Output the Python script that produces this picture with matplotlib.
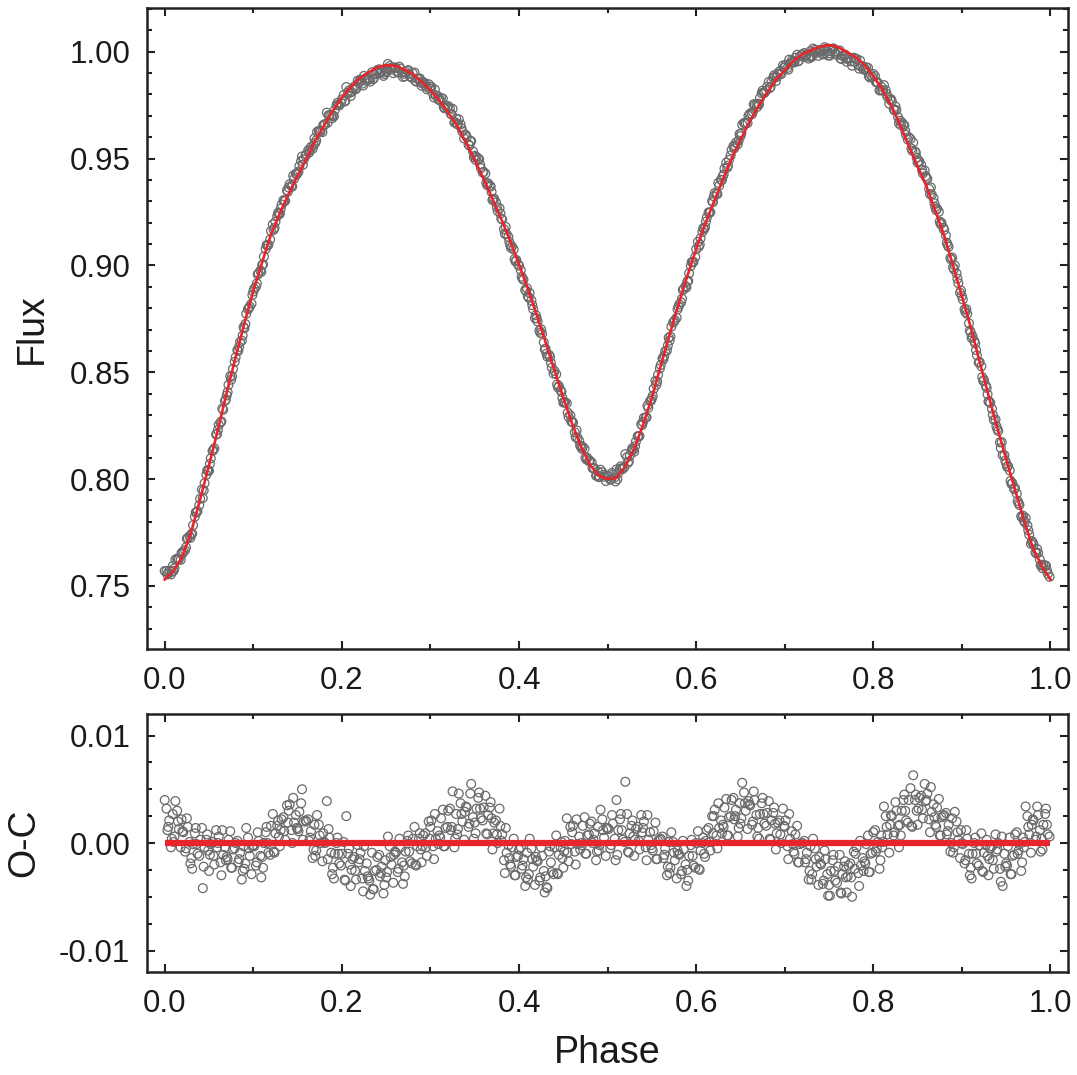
import numpy as np
import matplotlib
matplotlib.use("Agg")
import matplotlib.pyplot as plt
from matplotlib.ticker import MultipleLocator, FormatStrFormatter

# ── data ──
# fitted light curve, phase step 0.01, flux in units of 1e-4
fit_flux_e4 = [7530, 7570, 7640, 7755, 7905, 8065, 8230, 8405, 8570, 8730,
               8880, 9015, 9145, 9245, 9335, 9420, 9500, 9585, 9655, 9725,
               9787, 9833, 9876, 9903, 9927, 9937, 9935, 9918, 9895, 9859,
               9820, 9772, 9716, 9654, 9576, 9494, 9405, 9312, 9217, 9115,
               9005, 8890, 8768, 8641, 8510, 8381, 8259, 8152, 8068, 8016,
               8000, 8005, 8060, 8140, 8254, 8382, 8530, 8676, 8816, 8950,
               9076, 9192, 9298, 9400, 9500, 9587, 9669, 9743, 9808, 9869,
               9913, 9958, 9988, 10008, 10023, 10032, 10022, 9999, 9975, 9939,
               9886, 9824, 9752, 9660, 9560, 9464, 9370, 9256, 9140, 9000,
               8857, 8710, 8550, 8393, 8240, 8093, 7950, 7810, 7680, 7595,
               7530]
fit_phase_e2 = list(range(0, 101))

# observations, first batch: phase (1e-3), flux (1e-4), O-C (1e-4)
phase_a_e3 = [
    0, 3, 5, 8, 11, 14, 16, 19, 21, 23, 26, 28, 30, 32, 35, 37, 40, 43, 45, 48,
    51, 54, 56, 59, 61, 63, 66, 68, 70, 72, 75, 77, 80, 83, 85, 88, 91, 94, 96, 99,
    101, 103, 106, 108, 110, 112, 115, 117, 120, 123, 125, 128, 131, 134, 136, 139,
    141, 143, 146, 148, 150, 152, 155, 157, 160, 163, 165, 168, 171, 174, 176, 179,
    181, 183, 186, 188, 190, 192, 195, 197,
    200, 203, 205, 208, 211, 214, 216, 219, 221, 223, 226, 228, 230, 232, 235, 237,
    240, 243, 245, 248, 251, 254, 256, 259, 261, 263, 266, 268, 270, 272, 275, 277,
    280, 283, 285, 288, 291, 294, 296, 299,
    301, 303, 306, 308, 310, 312, 315, 317, 320, 323, 325, 328, 331, 334, 336, 339,
    341, 343, 346, 348, 350, 352, 355, 357, 360, 363, 365, 368, 371, 374, 376, 379,
    381, 383, 386, 388, 390, 392, 395, 397,
    400, 403, 405, 408, 411, 414, 416, 419, 421, 423, 426, 428, 430, 432, 435, 437,
    440, 443, 445, 448, 451, 454, 456, 459, 461, 463, 466, 468, 470, 472, 475, 477,
    480, 483, 485, 488, 491, 494, 496, 499,
    501, 503, 506, 508, 510, 512, 515, 517, 520, 523, 525, 528, 531, 534, 536, 539,
    541, 543, 546, 548, 550, 552, 555, 557, 560, 563, 565, 568, 571, 574, 576, 579,
    581, 583, 586, 588, 590, 592, 595, 597,
    600, 603, 605, 608, 611, 614, 616, 619, 621, 623, 626, 628, 630, 632, 635, 637,
    640, 643, 645, 648, 651, 654, 656, 659, 661, 663, 666, 668, 670, 672, 675, 677,
    680, 683, 685, 688, 691, 694, 696, 699,
    701, 703, 706, 708, 710, 712, 715, 717, 720, 723, 725, 728, 731, 734, 736, 739,
    741, 743, 746, 748, 750, 752, 755, 757, 760, 763, 765, 768, 771, 774, 776, 779,
    781, 783, 786, 788, 790, 792, 795, 797,
    800, 803, 805, 808, 811, 814, 816, 819, 821, 823, 826, 828, 830, 832, 835, 837,
    840, 843, 845, 848, 851, 854, 856, 859, 861, 863, 866, 868, 870, 872, 875, 877,
    880, 883, 885, 888, 891, 894, 896, 899,
    901, 903, 906, 908, 910, 912, 915, 917, 920, 923, 925, 928, 931, 934, 936, 939,
    941, 943, 946, 948, 950, 952, 955, 957, 960, 963, 965, 968, 971, 974, 976, 979,
    981, 983, 986, 988, 990, 992, 995, 997]

flux_a_e4 = [
    7570, 7554, 7571, 7566, 7583, 7628, 7625, 7655, 7662, 7667, 7724, 7733,
    7741, 7784, 7844, 7850, 7908, 7911, 7981, 8041, 8071, 8132, 8144, 8210,
    8254, 8265, 8324, 8366, 8392, 8441, 8465, 8515, 8570, 8600, 8641, 8672,
    8726, 8795, 8808, 8862,
    8891, 8900, 8963, 8976, 9002, 9041, 9095, 9097, 9161, 9167, 9204, 9246,
    9266, 9305, 9302, 9345, 9380, 9373, 9405, 9429, 9433, 9465, 9510, 9496,
    9520, 9528, 9554, 9562, 9585, 9630, 9627, 9657, 9662, 9715, 9702, 9702,
    9702, 9727, 9761, 9749,
    9777, 9767, 9835, 9819, 9812, 9837, 9825, 9854, 9870, 9851, 9866, 9879,
    9870, 9860, 9872, 9894, 9914, 9899, 9910, 9896, 9910, 9933, 9916, 9924,
    9924, 9903, 9921, 9903, 9897, 9905, 9914, 9885, 9899, 9864, 9874, 9875,
    9852, 9852, 9824, 9828,
    9836, 9803, 9795, 9793, 9779, 9784, 9741, 9747, 9746, 9709, 9733, 9670,
    9659, 9660, 9627, 9613, 9601, 9566, 9582, 9534, 9513, 9508, 9497, 9455,
    9438, 9386, 9384, 9369, 9311, 9295, 9255, 9243, 9215, 9170, 9147, 9133,
    9095, 9089, 9030, 9025,
    8999, 8947, 8933, 8881, 8849, 8836, 8795, 8767, 8738, 8695, 8680, 8640,
    8610, 8573, 8572, 8522, 8506, 8443, 8435, 8408, 8361, 8355, 8291, 8270,
    8264, 8219, 8194, 8179, 8152, 8151, 8100, 8100, 8086, 8052, 8051, 8018,
    8012, 8032, 8011, 8016,
    8013, 7997, 8021, 8008, 8045, 8028, 8060, 8047, 8117, 8076, 8109, 8145,
    8154, 8201, 8202, 8253, 8287, 8288, 8334, 8366, 8377, 8423, 8441, 8488,
    8534, 8560, 8598, 8625, 8667, 8733, 8744, 8795, 8818, 8827, 8890, 8903,
    8925, 8963, 9016, 9017,
    9076, 9087, 9127, 9174, 9205, 9248, 9249, 9296, 9339, 9336, 9373, 9401,
    9417, 9453, 9457, 9494, 9540, 9548, 9575, 9584, 9618, 9667, 9666, 9700,
    9711, 9708, 9753, 9754, 9757, 9783, 9818, 9807, 9836, 9830, 9859, 9890,
    9882, 9908, 9895, 9925,
    9939, 9924, 9944, 9960, 9950, 9972, 9955, 9978, 9988, 9976, 9989, 9978,
    9981, 10009, 9995, 10008, 10004, 9988, 10013, 10001, 9993, 10004, 10016, 9990,
    10000, 9969, 9981, 9987, 9966, 9970, 9935, 9953, 9967, 9936, 9932, 9932,
    9922, 9927, 9886, 9892,
    9896, 9859, 9856, 9820, 9818, 9820, 9789, 9776, 9768, 9731, 9727, 9694,
    9677, 9670, 9655, 9611, 9600, 9547, 9575, 9528, 9487, 9470, 9431, 9418,
    9405, 9358, 9331, 9315, 9273, 9266, 9205, 9199, 9166, 9106, 9087, 9028,
    8982, 8963, 8917, 8883,
    8841, 8794, 8773, 8729, 8687, 8668, 8635, 8579, 8548, 8477, 8463, 8427,
    8363, 8329, 8277, 8247, 8225, 8172, 8112, 8112, 8074, 8061, 7992, 7981,
    7958, 7898, 7879, 7820, 7798, 7783, 7740, 7710, 7693, 7658, 7655, 7624,
    7599, 7599, 7594, 7557]

oc_a_e4 = [
    40, 12, 21, 4, 6, 30, 13, 22, 10, -8, 15, 1, -14, -1, 14, -10, 3, -42, -4, 8,
    -11, 1, -20, -4, 6, -18, -11, -4, -13, 3, -23, -6, 0, -18, -9, -26, -19, 5, -12, -3,
    -3, -21, 2, -12, -13, 0, 15, -9, 16, -8, 9, 21, 12, 24, 3, 19, 36, 12, 19, 26,
    13, 29, 50, 20, 20, 2, 11, -6, -7, 17, 0, 9, 0, 39, 5, -9, -23, -10, 5, -19,
    -10, -34, 25, -5, -25, -13, -34, -18, -9, -33, -26, -19, -33, -48, -43, -26,
    -13, -31, -22, -39, -27, -3, -20, -11, -9, -27, -4, -18, -21, -8, 7, -17,
    4, -20, -3, 9, -3, 9, -12, 4,
    21, -3, 4, 11, 7, 23, -3, 14, 30, 12, 48, 4, 13, 37, 20, 29, 33, 15, 55, 24,
    19, 32, 47, 23, 33, 9, 26, 38, 9, 21, 0, 16, 8, -16, -9, -2, -20, -4, -30, -13,
    -6, -24, -15, -32, -29, -5, -22, -13, -17, -35, -12, -26, -31, -42, -3, -27,
    -4, -28, -11, 1, -8, 23, -17, -1, 16, -8, -1, 6, 0, 16, -10, 7, 18, 0, 9, -8,
    -2, 22, 5, 14,
    13, -5, 18, 4, 40, 12, 27, 3, 57, -8, 9, 21, 3, 15, -6, 10, 20, -4, 3, 10,
    -5, 11, -15, 2, 4, -14, -5, -22, -23, 1, -16, -7, -11, -29, -6, -20, -25, -12, 3, -21,
    0, -24, -7, 5, 2, 14, -7, 9, 31, 7, 14, 21, 17, 33, 7, 24, 40, 22, 31, 14,
    23, 47, 30, 39, 35, 17, 40, 26, 14, 27, 42, 18, 28, 4, 21, 33, 9, 21, 0, 16,
    21, -3, 4, 11, -8, 8, -18, -1, 0, -18, -9, -26, -29, -5, -22, -13, -20, -38, -15, -29,
    -39, -26, -11, -35, -22, -46, -29, -17, -31, -19, -50, -24, -4, -28, -21, -14,
    -17, -1, -27, -10,
    10, -8, 1, -16, 1, 25, 8, 17, 25, 7, 30, 16, 17, 30, 45, 21, 40, 16, 63, 45,
    32, 44, 23, 39, 46, 22, 29, 36, 17, 33, 7, 24, 26, 8, 17, 0, -4, 20, 3, 12,
    -1, -19, 4, -10, -23, -10, 5, -19, -2, -26, -9, 3, -15, -3, -24, -8, 0, -24, -40, -10,
    -19, -3, -29, -12, 8, -10, -1, -18, 1, 25, 8, 17, 21, 3, 26, 12, 4, 17, 32, 8]

# observations, second batch
phase_b_e3 = [
    2, 4, 7, 9, 10, 12, 15, 18, 20, 24, 25, 29, 31, 34, 36, 39, 42, 44, 47, 49,
    50, 52, 55, 58, 60, 64, 65, 69, 71, 74, 76, 79, 82, 84, 87, 89, 90, 92, 95, 98,
    100, 104, 105, 109, 111, 114, 116, 119, 122, 124, 127, 129, 130, 132, 135, 138,
    140, 144, 145, 149, 151, 154, 156, 159, 162, 164, 167, 169, 170, 172, 175, 178,
    180, 184, 185, 189, 191, 194, 196, 199,
    202, 204, 207, 209, 210, 212, 215, 218, 220, 224, 225, 229, 231, 234, 236, 239,
    242, 244, 247, 249, 250, 252, 255, 258, 260, 264, 265, 269, 271, 274, 276, 279,
    282, 284, 287, 289, 290, 292, 295, 298,
    300, 304, 305, 309, 311, 314, 316, 319, 322, 324, 327, 329, 330, 332, 335, 338,
    340, 344, 345, 349, 351, 354, 356, 359, 362, 364, 367, 369, 370, 372, 375, 378,
    380, 384, 385, 389, 391, 394, 396, 399,
    402, 404, 407, 409, 410, 412, 415, 418, 420, 424, 425, 429, 431, 434, 436, 439,
    442, 444, 447, 449, 450, 452, 455, 458, 460, 464, 465, 469, 471, 474, 476, 479,
    482, 484, 487, 489, 490, 492, 495, 498,
    500, 504, 505, 509, 511, 514, 516, 519, 522, 524, 527, 529, 530, 532, 535, 538,
    540, 544, 545, 549, 551, 554, 556, 559, 562, 564, 567, 569, 570, 572, 575, 578,
    580, 584, 585, 589, 591, 594, 596, 599,
    602, 604, 607, 609, 610, 612, 615, 618, 620, 624, 625, 629, 631, 634, 636, 639,
    642, 644, 647, 649, 650, 652, 655, 658, 660, 664, 665, 669, 671, 674, 676, 679,
    682, 684, 687, 689, 690, 692, 695, 698,
    700, 704, 705, 709, 711, 714, 716, 719, 722, 724, 727, 729, 730, 732, 735, 738,
    740, 744, 745, 749, 751, 754, 756, 759, 762, 764, 767, 769, 770, 772, 775, 778,
    780, 784, 785, 789, 791, 794, 796, 799,
    802, 804, 807, 809, 810, 812, 815, 818, 820, 824, 825, 829, 831, 834, 836, 839,
    842, 844, 847, 849, 850, 852, 855, 858, 860, 864, 865, 869, 871, 874, 876, 879,
    882, 884, 887, 889, 890, 892, 895, 898,
    900, 904, 905, 909, 911, 914, 916, 919, 922, 924, 927, 929, 930, 932, 935, 938,
    940, 944, 945, 949, 951, 954, 956, 959, 962, 964, 967, 969, 970, 972, 975, 978,
    980, 984, 985, 989, 991, 994, 996, 999]

flux_b_e4 = [
    7570, 7561, 7554, 7593, 7571, 7623, 7625, 7622, 7651, 7681, 7721, 7725,
    7746, 7824, 7844, 7878, 7951, 7947, 8020, 8042, 8039, 8097, 8136, 8209,
    8230, 8270, 8330, 8372, 8407, 8482, 8481, 8549, 8604, 8619, 8648, 8711,
    8706, 8774, 8800, 8821,
    8878, 8916, 8958, 8970, 9005, 9077, 9093, 9121, 9192, 9176, 9231, 9241,
    9242, 9285, 9301, 9352, 9365, 9369, 9420, 9426, 9439, 9489, 9471, 9513,
    9539, 9539, 9546, 9594, 9573, 9625, 9627, 9624, 9656, 9668, 9703, 9689,
    9698, 9750, 9752, 9760,
    9797, 9770, 9809, 9808, 9793, 9827, 9829, 9865, 9861, 9842, 9887, 9869,
    9870, 9904, 9874, 9900, 9918, 9903, 9887, 9920, 9905, 9943, 9924, 9900,
    9927, 9904, 9930, 9882, 9885, 9911, 9896, 9878, 9903, 9860, 9874, 9857,
    9841, 9858, 9836, 9848,
    9835, 9786, 9823, 9776, 9771, 9781, 9735, 9737, 9736, 9706, 9669, 9687,
    9662, 9684, 9642, 9595, 9610, 9561, 9581, 9506, 9494, 9500, 9473, 9435,
    9430, 9376, 9373, 9344, 9306, 9312, 9273, 9268, 9219, 9148, 9180, 9111,
    9082, 9075, 9019, 9004,
    8978, 8938, 8885, 8893, 8856, 8870, 8814, 8753, 8752, 8685, 8701, 8608,
    8587, 8581, 8544, 8494, 8491, 8429, 8416, 8380, 8358, 8359, 8311, 8298,
    8269, 8196, 8228, 8157, 8142, 8142, 8092, 8084, 8078, 8050, 8016, 8036,
    8009, 8044, 8020, 7991,
    8014, 8000, 8029, 7989, 8000, 8049, 8050, 8056, 8103, 8083, 8132, 8138,
    8128, 8176, 8199, 8257, 8268, 8289, 8344, 8367, 8390, 8460, 8456, 8518,
    8565, 8577, 8602, 8662, 8648, 8714, 8737, 8755, 8806, 8844, 8885, 8897,
    8928, 8998, 9014, 9040,
    9110, 9097, 9157, 9170, 9179, 9225, 9246, 9302, 9323, 9334, 9386, 9399,
    9425, 9481, 9467, 9515, 9559, 9560, 9567, 9615, 9605, 9659, 9665, 9666,
    9705, 9719, 9754, 9742, 9754, 9806, 9809, 9818, 9859, 9835, 9879, 9881,
    9863, 9897, 9899, 9936,
    9928, 9916, 9963, 9953, 9951, 9986, 9958, 9985, 9994, 9981, 9968, 10003,
    9974, 10015, 10001, 9981, 10004, 9992, 10021, 9982, 9982, 10012, 10000, 9986,
    10006, 9966, 9984, 9969, 9953, 9973, 9955, 9972, 9965, 9921, 9959, 9917,
    9915, 9925, 9880, 9882,
    9886, 9856, 9819, 9837, 9820, 9844, 9803, 9757, 9778, 9725, 9744, 9665,
    9657, 9660, 9630, 9589, 9592, 9537, 9533, 9504, 9481, 9487, 9448, 9444,
    9410, 9334, 9365, 9291, 9259, 9251, 9193, 9177, 9140, 9095, 9034, 9037,
    8991, 9000, 8938, 8872,
    8857, 8782, 8795, 8695, 8661, 8646, 8604, 8545, 8528, 8460, 8438, 8397,
    8363, 8357, 8300, 8279, 8234, 8145, 8173, 8086, 8058, 8041, 7978, 7953,
    7932, 7887, 7826, 7829, 7806, 7818, 7760, 7697, 7702, 7652, 7672, 7596,
    7583, 7596, 7573, 7543]

oc_b_e4 = [
    32, 15, -4, 27, 1, 39, 20, -4, 11, -5, 23, -19, -24, 9, -1, -12, 14, -22, 3, -7,
    -26, -1, -12, 12, 0, -30, 12, -16, -15, 11, -23, -5, 2, -15, -34, -3, -24, 14, -5, -29,
    -2, -18, 10, -32, -23, 10, 0, -11, 27, -9, 16, 6, -3, 22, 11, 35, 30, 0, 42, 14,
    11, 37, 3, 21, 22, 5, -14, 17, -12, 26, 7, -17, 1, -15, 13, -29, -33, 0, -10, -21,
    1, -35, -10, -20, -40, -15, -26, -2, -15, -45, -3, -31, -35, -9, -43, -25,
    -11, -28, -47, -16, -32, 6, -13, -37, -8, -24, 4, -38, -31, 2, -8, -19,
    15, -21, 4, -6, -18, 7, -4, 20,
    15, -15, 27, -1, 5, 31, -3, 15, 32, 15, -4, 27, 8, 46, 27, 3, 34, 18, 46, 4,
    9, 42, 32, 21, 44, 8, 33, 23, -6, 19, 8, 32, 2, -28, 14, -14, -22, 4, -30, -12,
    -4, -21, -40, -9, -34, 4, -15, -39, -16, -32, -4, -46, -41, -8, -18, -29,
    7, -29, -4, -14, -23, 2, -9, 15, 10, -20, 22, -6, -2, 24, -10, 8, 20, 3, -16, 15,
    -7, 31, 12, -12,
    14, -2, 26, -16, -11, 22, 12, 1, 27, -9, 16, 6, -12, 13, 2, 26, 14, -16, 26, -2,
    -7, 19, -15, 3, 6, -11, -30, 1, -28, 10, -9, -33, -10, -26, 2, -40, -35, -2, -12, -23,
    11, -25, 0, -10, -13, 12, 1, 25, 25, -5, 37, 9, 15, 41, 7, 25, 42, 25, 6, 37,
    18, 56, 37, 13, 36, 20, 48, 6, 4, 37, 27, 16, 39, 3, 28, 18, -6, 19, 8, 32,
    15, -15, 27, -1, -10, 16, -18, 0, 2, -15, -34, -3, -34, 4, -15, -39, -19, -35, -7, -49,
    -49, -16, -26, -37, -11, -47, -22, -32, -46, -21, -32, -8, -10, -40, 2, -26,
    -19, 7, -27, -9,
    12, -5, -24, 7, -4, 34, 15, -9, 26, 10, 38, -4, 7, 40, 30, 19, 51, 15, 40, 30,
    17, 42, 31, 55, 40, 10, 52, 24, 15, 41, 7, 25, 28, 11, -8, 23, -9, 29, 10, -14,
    0, -16, 12, -30, -33, 0, -10, -21, 9, -27, -2, -12, -30, -5, -16, 8, -6, -36, 6, -22,
    -21, 5, -29, -11, 10, -7, -26, 5, -4, 34, 15, -9, 22, 6, 34, -8, -6, 27, 17, 6]

oc_fit_phase = [0.0, 1.0]
oc_fit = [0.0, 0.0]

x_ticks = [0.0, 0.2, 0.4, 0.6, 0.8, 1.0]
flux_ticks = [0.75, 0.80, 0.85, 0.90, 0.95, 1.00]
oc_ticks = [-0.01, 0.00, 0.01]

fit_phase = np.array(fit_phase_e2) / 100.0
fit_flux = np.array(fit_flux_e4) / 1e4
phase_obs = np.array(phase_a_e3 + phase_b_e3) / 1000.0
flux_obs = np.array(flux_a_e4 + flux_b_e4) / 1e4
oc_obs = np.array(oc_a_e4 + oc_b_e4) / 1e4

# ── style ──
plt.rcParams['font.family'] = ['Liberation Sans', 'DejaVu Sans']
plt.rcParams['axes.unicode_minus'] = False
RED = '#e8252b'
GREY = '#6a6a6a'
TXT = '#1a1a1a'

fig = plt.figure(figsize=(10.77, 10.75), dpi=100)
ax1 = fig.add_axes([0.1365, 0.3963, 0.8553, 0.5963])
ax2 = fig.add_axes([0.1365, 0.0958, 0.8553, 0.2400])


def style_axis(ax):
    for sp in ax.spines.values():
        sp.set_linewidth(1.8)
        sp.set_color('#222222')
    ax.tick_params(which='both', direction='in', top=True, right=True,
                   colors='#222222', labelcolor=TXT, labelsize=22.5, width=1.5)
    ax.tick_params(which='major', length=6, pad=12)
    ax.tick_params(which='minor', length=3.5)
    ax.set_xlim(-0.02, 1.02)
    ax.set_xticks(x_ticks)
    ax.xaxis.set_minor_locator(MultipleLocator(0.1))
    ax.xaxis.set_major_formatter(FormatStrFormatter('%.1f'))


# top panel: light curve
ax1.scatter(phase_obs, flux_obs, s=40, facecolors='none', edgecolors=GREY,
            linewidths=0.9, zorder=2)
ax1.plot(fit_phase, fit_flux, color=RED, lw=1.9, zorder=3)
style_axis(ax1)
ax1.set_ylim(0.7205, 1.0205)
ax1.set_yticks(flux_ticks)
ax1.yaxis.set_minor_locator(MultipleLocator(0.01))
ax1.yaxis.set_major_formatter(FormatStrFormatter('%.2f'))
ax1.set_ylabel('Flux', fontsize=27, color=TXT, labelpad=14)

# bottom panel: residuals
ax2.scatter(phase_obs, oc_obs, s=40, facecolors='none', edgecolors=GREY,
            linewidths=0.9, zorder=2)
ax2.plot(oc_fit_phase, oc_fit, color=RED, lw=4.5, zorder=3, solid_capstyle='butt')
style_axis(ax2)
ax2.set_ylim(-0.012, 0.012)
ax2.set_yticks(oc_ticks)
ax2.yaxis.set_minor_locator(MultipleLocator(0.0025))
ax2.yaxis.set_major_formatter(FormatStrFormatter('%.2f'))
ax2.set_ylabel('O-C', fontsize=27, color=TXT, labelpad=12)
ax2.set_xlabel('Phase', fontsize=27, color=TXT, labelpad=12)

fig.savefig('out.png', dpi=100)
